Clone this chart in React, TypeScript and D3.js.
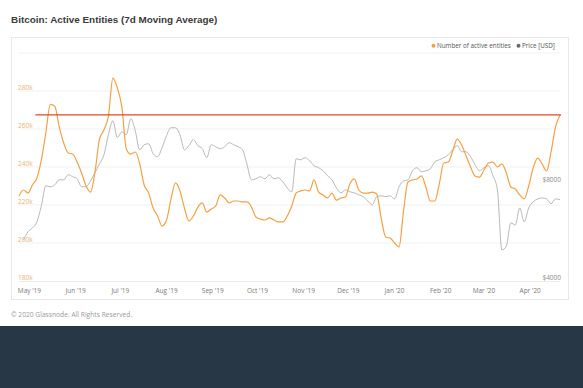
import React from "react";
import * as d3 from "d3";

const WIDTH = 583;
const HEIGHT = 388;

// samples every 3 days starting 24 Apr 2019
const startDate = new Date(2019, 3, 24);
const stepDays = 3;

// Number of active entities, thousands (7d MA)
const activeEntities = [
  224.7, 227.9, 226.3, 230.5, 234.2, 243.7, 257.9, 273.0, 272.0, 261.1,
  252.6, 247.4, 246.8, 242.6, 236.8, 230.0, 226.8, 237.4, 254.7, 259.5,
  266.8, 286.8, 281.6, 271.6, 249.5, 246.8, 247.9, 241.6, 230.5, 226.3,
  218.4, 214.2, 208.9, 212.1, 223.2, 231.6, 227.4, 218.4, 211.6, 214.2,
  218.9, 221.1, 216.3, 217.9, 219.5, 225.3, 223.7, 221.1, 222.1, 222.1,
  221.6, 221.6, 218.9, 213.7, 212.6, 212.1, 213.2, 212.1, 211.1, 211.1,
  214.2, 219.5, 226.3, 227.4, 227.9, 227.4, 233.2, 226.8, 225.3, 223.7,
  226.3, 222.6, 223.7, 224.2, 231.1, 233.7, 227.9, 226.3, 226.3, 226.8,
  225.8, 213.2, 203.2, 202.6, 200.0, 197.9, 216.8, 232.1, 233.2, 233.7,
  235.3, 229.5, 222.1, 222.1, 231.1, 242.1, 242.6, 248.4, 254.7, 251.6,
  245.8, 240.0, 235.3, 234.7, 238.4, 242.1, 242.6, 240.0, 241.6, 236.8,
  229.5, 228.4, 225.3, 223.2, 230.0, 239.5, 244.7, 241.6, 237.9, 247.9,
  261.1, 267.4,
];

// BTC price in USD, same dates (first sample missing)
const priceUsd: (number | null)[] = [
  null, 5345, 5657, 5820, 6070, 6800, 7830, 7780, 7890, 8170,
  8170, 8470, 8350, 8230, 7780, 7780, 8110, 8590, 9150, 9750,
  11240, 12400, 11000, 11470, 11240, 12580, 11560, 10100, 10470, 10540,
  9820, 9620, 10250, 11160, 11800, 11800, 11240, 10100, 10400, 10850,
  10400, 10180, 9550, 10470, 10320, 10180, 10320, 10620, 10470, 10320,
  10100, 9090, 8170, 8230, 8350, 8230, 8470, 8230, 8290, 8060,
  7720, 7510, 9480, 9410, 9550, 9350, 9020, 8900, 8710, 8410,
  8170, 7720, 7450, 7610, 7510, 7450, 7350, 7250, 7040, 6850,
  7250, 7300, 7250, 7300, 7140, 7780, 8110, 8170, 8710, 8900,
  8650, 8710, 8830, 9280, 9410, 9550, 9750, 10100, 10400, 9960,
  9960, 9620, 9090, 8710, 8900, 9020, 8410, 7610, 4980, 5120,
  6030, 5940, 6700, 6070, 6700, 6990, 7140, 7190, 7140, 6900,
  7140, 7100,
];

// horizontal reference line (current level)
const thresholdLevel = 267.4;
const thresholdStart = new Date(2019, 4, 5);

const entityTicks = [180, 200, 220, 240, 260, 280];
const gridTicks = [200, 220, 240, 260, 280, 300];
const priceTicks = [4000, 8000];

const legendItems = [
  { label: "Number of active entities", color: "#f5a043" },
  { label: "Price [USD]", color: "#6b6b6b" },
];

const title = "Bitcoin: Active Entities (7d Moving Average)";
const footer = "\u00a9 2020 Glassnode. All Rights Reserved.";

const plot = { left: 19, right: 560, top: 53, bottom: 281 };
const labelFont = "'Open Sans', 'DejaVu Sans', sans-serif";

const App = () => {
  const dates = activeEntities.map((_, i) => d3.timeDay.offset(startDate, i * stepDays));

  const x = d3
    .scaleTime()
    .domain([dates[0], dates[dates.length - 1]])
    .range([plot.left, plot.right]);
  const yEntities = d3.scaleLinear().domain([180, 300]).range([plot.bottom, plot.top]);
  const yPrice = d3.scaleLog().domain([4000, 20000]).range([plot.bottom, plot.top]);

  const entityLine = d3
    .line<number>()
    .x((_, i) => x(dates[i]))
    .y((d) => yEntities(d))
    .curve(d3.curveMonotoneX);

  const priceLine = d3
    .line<number | null>()
    .defined((d) => d != null)
    .x((_, i) => x(dates[i]))
    .y((d) => yPrice(d as number))
    .curve(d3.curveMonotoneX);

  const monthTicks = d3.timeMonth.range(d3.timeMonth.ceil(dates[0]), dates[dates.length - 1]);
  const fmt = d3.timeFormat("%b '%y");

  return (
    <svg
      width={WIDTH}
      height={HEIGHT}
      style={{ position: "absolute", left: 0, top: 0, background: "#fff" }}
    >
      <text
        x={11}
        y={23}
        fontFamily="'Liberation Sans', Arial, sans-serif"
        fontWeight="bold"
        fontSize={9.9}
        fill="#3a3a3a"
      >
        {title}
      </text>

      {/* card */}
      <rect x={11.5} y={37.5} width={557} height={262} fill="#fff" stroke="#e8e8e8" />

      {/* grid */}
      {gridTicks.map((t) => (
        <line
          key={t}
          x1={plot.left}
          x2={plot.right}
          y1={yEntities(t)}
          y2={yEntities(t)}
          stroke="#f1f1f1"
        />
      ))}
      <line x1={plot.left} x2={plot.right} y1={plot.bottom + 0.5} y2={plot.bottom + 0.5} stroke="#eaeaea" />

      {/* left axis labels */}
      {entityTicks.map((t) => (
        <text
          key={t}
          x={plot.left - 1}
          y={yEntities(t) - 1.5}
          fontFamily={labelFont}
          fontSize={6.5}
          fill="#e9b27a"
        >
          {t}k
        </text>
      ))}

      {/* right axis labels */}
      {priceTicks.map((t) => (
        <text
          key={t}
          x={plot.right + 1}
          y={yPrice(t) - 1}
          textAnchor="end"
          fontFamily={labelFont}
          fontSize={6.5}
          fill="#8a8a8a"
        >
          ${t}
        </text>
      ))}

      {/* x axis labels */}
      {monthTicks.map((d) => (
        <text
          key={d.toISOString()}
          x={x(d)}
          y={293}
          textAnchor="middle"
          fontFamily={labelFont}
          fontSize={6.5}
          fill="#7a7a7a"
        >
          {fmt(d)}
        </text>
      ))}

      <path d={priceLine(priceUsd) || ""} fill="none" stroke="#b0b0b0" strokeWidth={0.9} />
      <path d={entityLine(activeEntities) || ""} fill="none" stroke="#f5a043" strokeWidth={1.2} />

      <line
        x1={x(thresholdStart)}
        x2={plot.right + 1}
        y1={yEntities(thresholdLevel)}
        y2={yEntities(thresholdLevel)}
        stroke="#e2462e"
        strokeWidth={1.2}
      />

      {/* legend */}
      <g fontFamily={labelFont} fontSize={6.3} fill="#555">
        <circle cx={433.5} cy={45.8} r={2} fill={legendItems[0].color} />
        <text x={437} y={48}>{legendItems[0].label}</text>
        <circle cx={518.5} cy={45.8} r={2} fill={legendItems[1].color} />
        <text x={522} y={48}>{legendItems[1].label}</text>
      </g>

      <text x={11} y={317} fontFamily={labelFont} fontSize={6.7} fill="#9a9a9a">
        {footer}
      </text>

      <rect x={0} y={326} width={WIDTH} height={HEIGHT - 326} fill="#283746" />
    </svg>
  );
};

export default App;
